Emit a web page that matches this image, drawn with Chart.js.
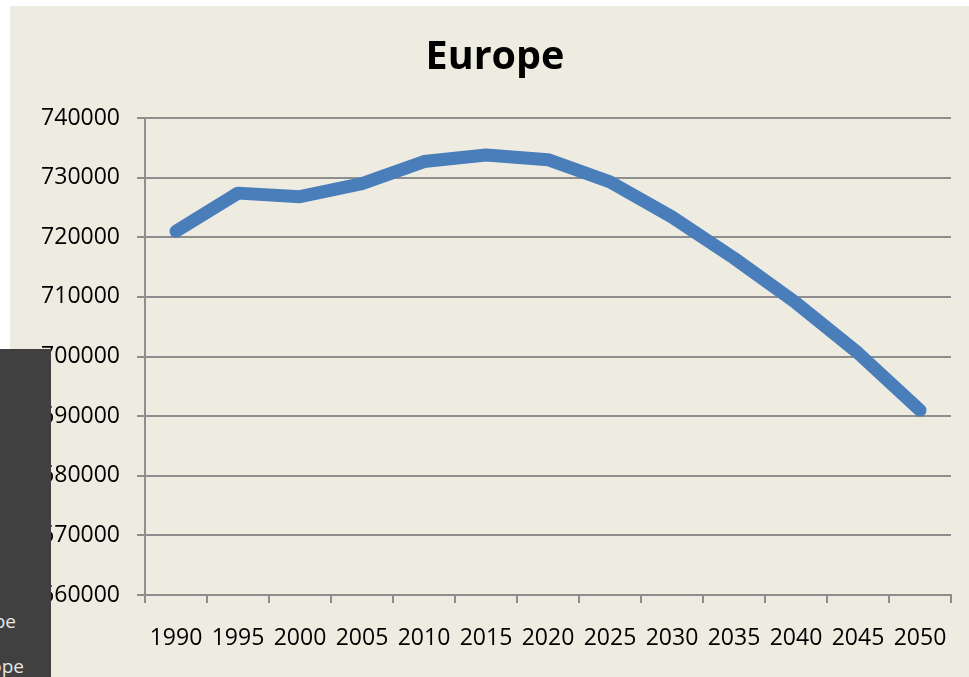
<!DOCTYPE html>
<html>
<head>
<meta charset="utf-8">
<script src="https://cdn.jsdelivr.net/npm/chart.js@4"></script>
<style>
  html, body { margin: 0; padding: 0; background: #ffffff; width: 969px; height: 677px; overflow: hidden; }
  #wrap { position: absolute; left: 10px; top: 6px; width: 959px; height: 671px; background: #eeece1; }
  #overlay {
    position: absolute; left: 0; top: 349px; width: 51px; height: 328px;
    background: #404040; overflow: hidden; z-index: 5;
    font-family: 'Open Sans', sans-serif; font-size: 19px; color: #e6e6e6;
  }
  #overlay span { position: absolute; white-space: nowrap; }
</style>
</head>
<body>
<div id="wrap"><canvas id="chart" width="959" height="671"></canvas></div>
<div id="overlay">
  <span style="right: 35px; top: 259px;">Europe</span>
  <span style="right: 27px; top: 304px;">Europe</span>
</div>
<script>
// dane: populacja Europy (tys.)
const years = ['1990', '1995', '2000', '2005', '2010', '2015', '2020',
               '2025', '2030', '2035', '2040', '2045', '2050'];
const population = [721000, 727400, 726800, 729000, 732700, 733800, 733000,
                    729300, 723400, 716500, 709000, 700600, 691000];
const yMin = 660000;
const yMax = 740000;
const yStep = 10000;

const gridColor = '#8e8e8e';
const tickFont = { family: "'Open Sans', sans-serif", size: 23 };

const ctx = document.getElementById('chart').getContext('2d');

new Chart(ctx, {
  type: 'line',
  data: {
    labels: years,
    datasets: [{
      label: 'Europe',
      data: population,
      borderColor: '#4a7ebb',
      borderWidth: 13,
      borderCapStyle: 'round',
      borderJoinStyle: 'round',
      pointRadius: 0,
      tension: 0,
      fill: false
    }]
  },
  options: {
    responsive: false,
    animation: false,
    // lewy padding przesuwa tytuł na środek jak w oryginale
    layout: { padding: { left: 29, right: 18, top: 0, bottom: 0 } },
    plugins: {
      legend: { display: false },
      tooltip: { enabled: false },
      title: {
        display: true,
        text: 'Europe',
        color: '#000000',
        font: { family: "'Open Sans', sans-serif", size: 39.5, weight: 'bold', lineHeight: 1.2 },
        padding: { top: 28, bottom: 36.6 }
      }
    },
    scales: {
      x: {
        offset: true,
        grid: {
          offset: true,
          drawOnChartArea: false,
          drawTicks: true,
          tickLength: 8,
          color: gridColor,
          lineWidth: 2
        },
        border: { color: gridColor, width: 2 },
        ticks: {
          color: '#000000',
          font: tickFont,
          padding: 22,
          maxRotation: 0,
          autoSkip: false
        },
        afterFit: (scale) => { scale.height = 82; }
      },
      y: {
        min: yMin,
        max: yMax,
        grid: {
          color: gridColor,
          lineWidth: 2,
          tickLength: 8
        },
        border: { color: gridColor, width: 2 },
        ticks: {
          stepSize: yStep,
          color: '#000000',
          font: tickFont,
          padding: 17,
          callback: (v) => String(v)
        },
        afterFit: (scale) => { scale.width = 106; }
      }
    }
  }
});
</script>
</body>
</html>
